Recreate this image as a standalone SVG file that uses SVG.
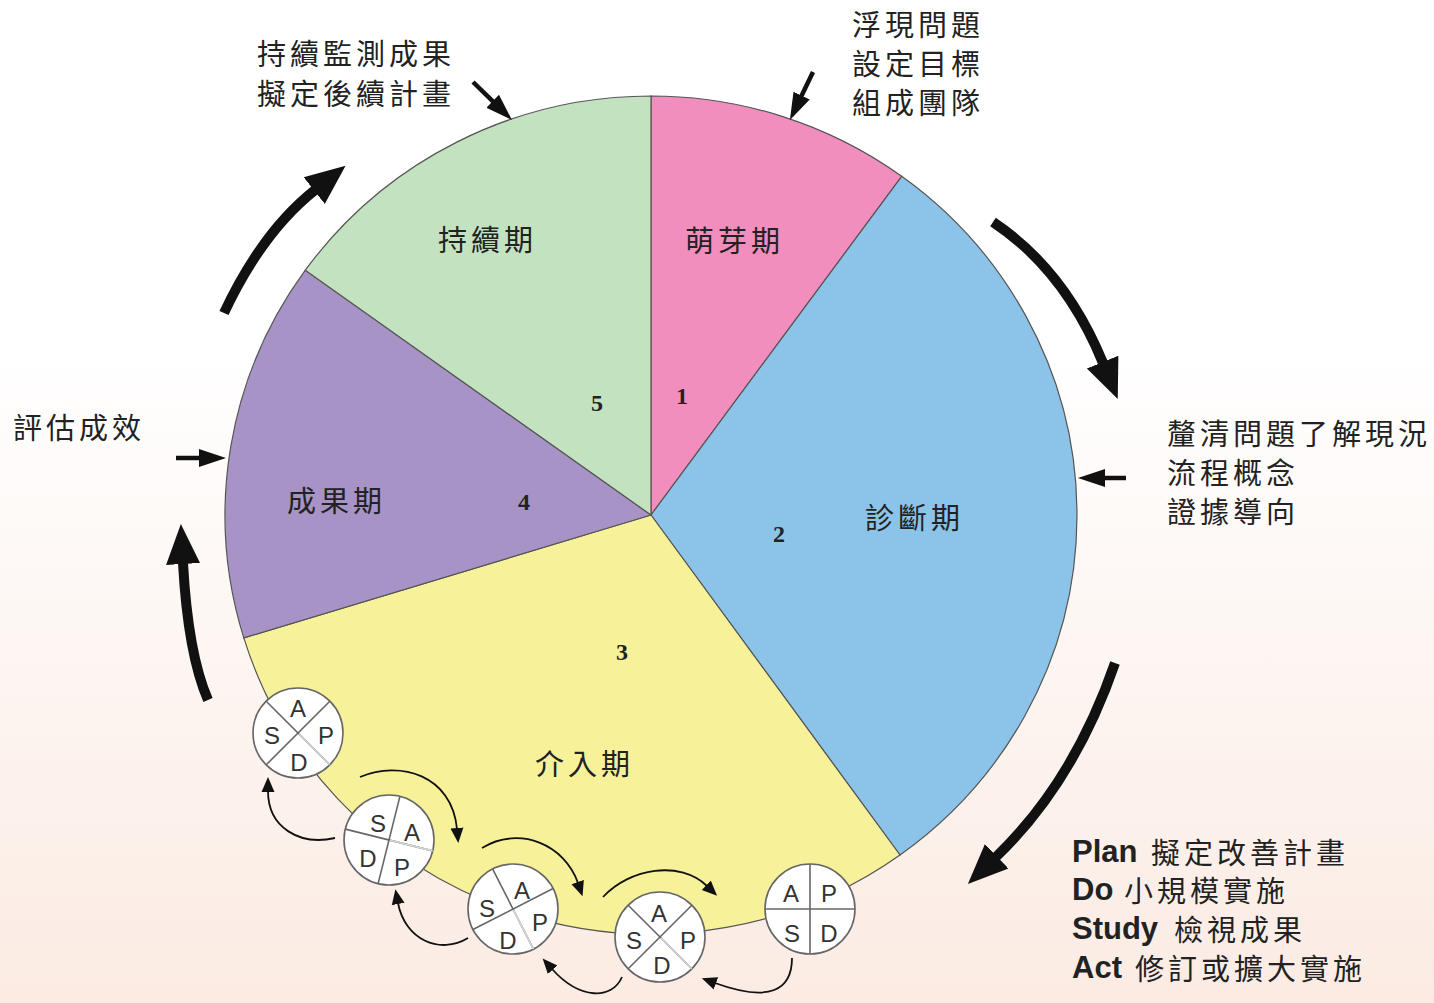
<svg xmlns="http://www.w3.org/2000/svg" width="1434" height="1003" viewBox="0 0 1434 1003">
<defs>
<linearGradient id="bg" x1="0" y1="0" x2="0" y2="1">
<stop offset="0" stop-color="#ffffff"/>
<stop offset="0.35" stop-color="#ffffff"/>
<stop offset="1" stop-color="#fbebe3"/>
</linearGradient>
<marker id="bigHead" markerUnits="userSpaceOnUse" markerWidth="46" markerHeight="42" viewBox="0 -21 46 42" refX="1" refY="0" orient="auto">
<path d="M0,-17 L40,0 L0,17 Z" fill="#111"/>
</marker>
<marker id="midHead" markerUnits="userSpaceOnUse" markerWidth="30" markerHeight="24" viewBox="0 -12 30 24" refX="1" refY="0" orient="auto">
<path d="M0,-9 L27,0 L0,9 Z" fill="#111"/>
</marker>
<marker id="smallHead" markerUnits="userSpaceOnUse" markerWidth="18" markerHeight="16" viewBox="0 -8 18 16" refX="1" refY="0" orient="auto">
<path d="M0,-6.5 L15,0 L0,6.5 Z" fill="#111"/>
</marker>
<style>
.slice{stroke:#555;stroke-width:1.2}
.cjk{font-family:"Noto Sans CJK TC","Noto Sans CJK SC",sans-serif;fill:#222;dominant-baseline:central}
.lbl{font-size:29px;letter-spacing:4px}
.sl{font-size:29px;letter-spacing:4px}
.num{font-family:"Liberation Serif",serif;font-weight:bold;font-size:24px;fill:#222;text-anchor:middle;dominant-baseline:central}
.big{fill:none;stroke:#111;stroke-width:10;marker-end:url(#bigHead)}
.mid{fill:none;stroke:#111;stroke-width:4.5;marker-end:url(#midHead)}
.thin{fill:none;stroke:#111;stroke-width:1.8;marker-end:url(#smallHead)}
.pd circle{fill:#fff;stroke:#666;stroke-width:1.6}
.pd line{stroke:#666;stroke-width:1.6}
.pd line.lt{stroke:#d8d8d8;stroke-width:1.6}
.pd text{font-family:"Liberation Sans",Arial,sans-serif;font-size:24px;fill:#333;text-anchor:middle;dominant-baseline:central}
.en{font-family:"Liberation Sans",Arial,sans-serif;font-weight:bold;font-size:31px;fill:#222;dominant-baseline:central}
</style>
</defs>
<rect x="0" y="0" width="1434" height="1003" fill="url(#bg)"/>

<g id="pie">
<g id="slice-1"><path class="slice" fill="#f28ebd" d="M651,515 L651,96 A426,419 0 0 1 901.7,176.3 Z"/>
<text class="cjk sl" x="685" y="239">萌芽期</text><text class="num" x="682" y="396">1</text></g>
<g id="slice-2"><path class="slice" fill="#8cc3e8" d="M651,515 L901.7,176.3 A426,419 0 0 1 900,855 Z"/>
<text class="cjk sl" x="865" y="516">診斷期</text><text class="num" x="779" y="534">2</text></g>
<g id="slice-3"><path class="slice" fill="#f7f299" d="M651,515 L900,855 A426,419 0 0 1 243.8,637.9 Z"/>
<text class="cjk sl" x="535" y="762">介入期</text><text class="num" x="622" y="652">3</text></g>
<g id="slice-4"><path class="slice" fill="#a893c6" d="M651,515 L243.8,637.9 A426,419 0 0 1 305.3,270.2 Z"/>
<text class="cjk sl" x="287" y="499">成果期</text><text class="num" x="524" y="502">4</text></g>
<g id="slice-5"><path class="slice" fill="#c3e2c0" d="M651,515 L305.3,270.2 A426,419 0 0 1 651,96 Z"/>
<text class="cjk sl" x="438" y="238">持續期</text><text class="num" x="597" y="403">5</text></g>
</g>

<g id="labels">
<g id="label-sustain"><text class="cjk lbl" x="257" y="52">持續監測成果</text><text class="cjk lbl" x="257" y="92">擬定後續計畫</text></g>
<g id="label-sprout"><text class="cjk lbl" x="852" y="23">浮現問題</text><text class="cjk lbl" x="852" y="62">設定目標</text><text class="cjk lbl" x="852" y="101">組成團隊</text></g>
<g id="label-diag"><text class="cjk lbl" x="1167" y="432">釐清問題了解現況</text><text class="cjk lbl" x="1167" y="471">流程概念</text><text class="cjk lbl" x="1167" y="510">證據導向</text></g>
<g id="label-eval"><text class="cjk lbl" x="13" y="426">評估成效</text></g>
<g id="label-pdsa">
<text class="en" x="1072" y="851">Plan</text><text class="cjk lbl" x="1151" y="851">擬定改善計畫</text>
<text class="en" x="1072" y="889">Do</text><text class="cjk lbl" x="1124" y="889">小規模實施</text>
<text class="en" x="1072" y="928">Study</text><text class="cjk lbl" x="1174" y="928">檢視成果</text>
<text class="en" x="1072" y="967">Act</text><text class="cjk lbl" x="1135" y="967">修訂或擴大實施</text>
</g>
</g>

<g id="pdsa-circles">
<g id="pdsa-1" class="pd">
<circle cx="298" cy="733" r="45"/>
<line x1="266.2" y1="701.2" x2="329.8" y2="764.8"/><line x1="329.8" y1="701.2" x2="266.2" y2="764.8"/>
<line class="lt" x1="299" y1="734" x2="329.8" y2="764.8"/>
<text x="298" y="708">A</text><text x="326" y="735">P</text><text x="299" y="762">D</text><text x="272" y="735">S</text>
</g>
<g id="pdsa-2" class="pd">
<circle cx="389" cy="840" r="45"/>
<g transform="rotate(14 389 840)">
<line x1="389" y1="795" x2="389" y2="885"/><line x1="344" y1="840" x2="434" y2="840"/>
<line class="lt" x1="390" y1="840" x2="434" y2="840"/>
</g>
<text x="378" y="823">S</text><text x="412" y="832">A</text><text x="368" y="858">D</text><text x="402" y="867">P</text>
</g>
<g id="pdsa-3" class="pd">
<circle cx="513" cy="909" r="45"/>
<g transform="rotate(-27 513 909)">
<line x1="513" y1="864" x2="513" y2="954"/><line x1="468" y1="909" x2="558" y2="909"/>
<line class="lt" x1="513" y1="910" x2="513" y2="954"/>
</g>
<text x="522" y="890">A</text><text x="487" y="908">S</text><text x="540" y="922">P</text><text x="508" y="940">D</text>
</g>
<g id="pdsa-4" class="pd">
<circle cx="660" cy="937" r="45"/>
<line x1="628.2" y1="905.2" x2="691.8" y2="968.8"/><line x1="691.8" y1="905.2" x2="628.2" y2="968.8"/>
<line class="lt" x1="661" y1="938" x2="691.8" y2="968.8"/>
<text x="659" y="913">A</text><text x="634" y="940">S</text><text x="688" y="940">P</text><text x="662" y="965">D</text>
</g>
<g id="pdsa-5" class="pd">
<circle cx="810" cy="909" r="45"/>
<line x1="810" y1="864" x2="810" y2="954"/><line x1="765" y1="909" x2="855" y2="909"/>
<text x="791" y="893">A</text><text x="829" y="893">P</text><text x="792" y="933">S</text><text x="829" y="933">D</text>
</g>
</g>

<g id="connectors">
<path class="big" d="M224,313 Q262,232 315,190"/>
<path class="big" d="M993,222 Q1065,270 1103,363"/>
<path class="big" d="M1115,663 Q1074,782 996,857"/>
<path class="big" d="M208,700 Q188,654 183,563"/>
<path class="mid" d="M473,82 L493.4,101.9"/>
<path class="mid" d="M813,72 L801.2,96.5"/>
<path class="mid" d="M176,458 L200,458"/>
<path class="mid" d="M1126,478 L1104,478"/>
<path class="thin" d="M335,838 C300,846 268,828 268,791"/>
<path class="thin" d="M360,777 C400,760 452,775 457,829"/>
<path class="thin" d="M482,848 C520,825 565,845 578,883"/>
<path class="thin" d="M603,897 C630,868 680,860 707,886"/>
<path class="thin" d="M468,938 C440,955 405,940 398,903"/>
<path class="thin" d="M622,977 C612,1000 580,1000 552,969"/>
<path class="thin" d="M792,958 C792,990 770,1003 715,983"/>
</g>
</svg>
